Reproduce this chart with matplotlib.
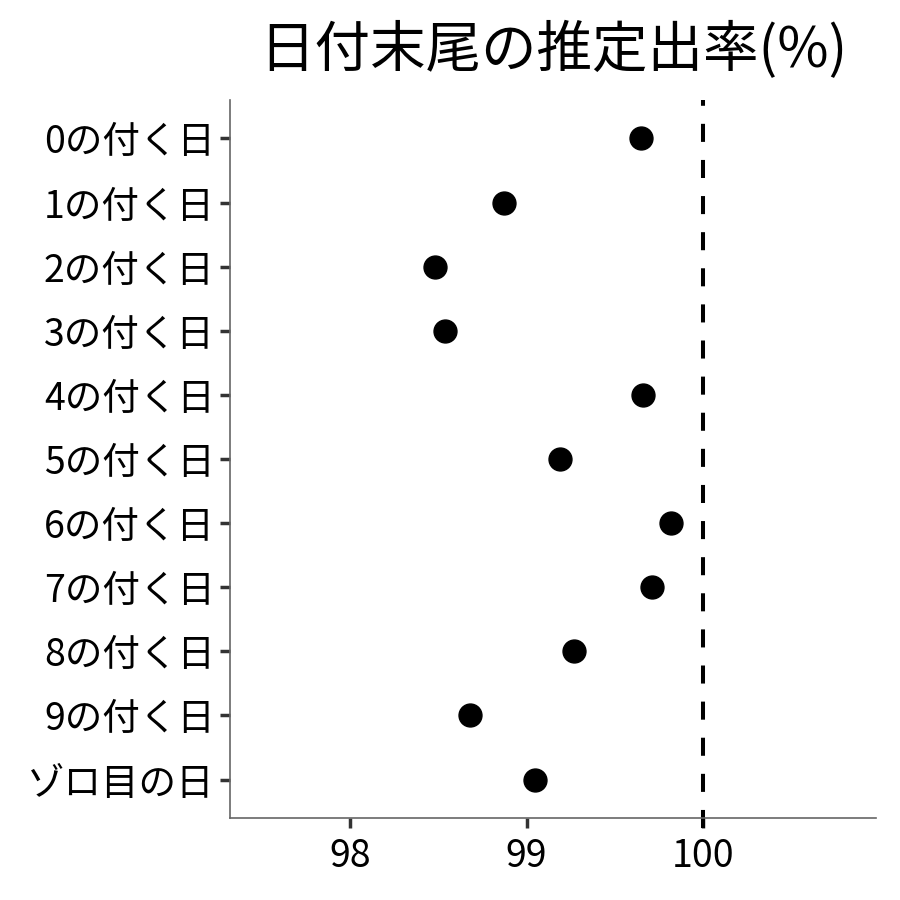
import numpy as np
import matplotlib.pyplot as plt

plt.rcParams['font.family'] = ['Noto Sans CJK JP', 'DejaVu Sans']
plt.rcParams['lines.scale_dashes'] = False

# data
labels = ['0の付く日', '1の付く日', '2の付く日', '3の付く日', '4の付く日',
          '5の付く日', '6の付く日', '7の付く日', '8の付く日', '9の付く日',
          'ゾロ目の日']
rates = [99.65, 98.87, 98.48, 98.54, 99.66, 99.19, 99.82, 99.71, 99.27, 98.68, 99.05]
xticks = [98, 99, 100]
ref_line = 100

fig = plt.figure(figsize=(9, 9), dpi=100)
ax = fig.add_axes([230/900, 82/900, 646/900, 718/900])

y = np.arange(len(labels))
ax.plot(rates, y, 'o', ms=16.5, c='black', zorder=3)
ax.axvline(ref_line, c='black', lw=2.9, dashes=(13, 13), zorder=2, clip_on=False,
           ymin=-10/718, ymax=1)

ax.set_yticks(y)
ax.set_yticklabels(labels)
ax.set_ylim(len(labels) - 0.4, -0.6)
ax.set_xticks(xticks)
ax.set_xticklabels([str(t) for t in xticks])
ax.set_xlim(97.32, 100.98)

for s in ['top', 'right']:
    ax.spines[s].set_visible(False)
for s in ['left', 'bottom']:
    ax.spines[s].set_color('#666666')
    ax.spines[s].set_linewidth(1.2)

ax.tick_params(axis='both', length=7, width=2.5, color='#333333',
               labelsize=27, labelcolor='black')
ax.tick_params(axis='y', pad=4)
ax.tick_params(axis='x', pad=7)

ax.set_title('日付末尾の推定出率(%)', fontsize=40, pad=24)

fig.savefig('out.png', dpi=100)
